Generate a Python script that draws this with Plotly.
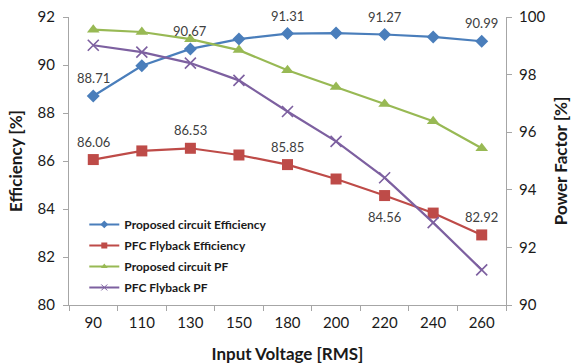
import plotly.graph_objects as go

voltages = ["90", "110", "130", "150", "180", "200", "220", "240", "260"]
prop_eff = [88.71, 89.97, 90.67, 91.08, 91.31, 91.33, 91.27, 91.17, 90.99]
flyback_eff = [86.06, 86.42, 86.53, 86.25, 85.85, 85.25, 84.56, 83.83, 82.92]
prop_pf = [99.56, 99.48, 99.23, 98.85, 98.15, 97.57, 96.98, 96.38, 95.44]
flyback_pf = [99.02, 98.78, 98.40, 97.80, 96.72, 95.68, 94.42, 92.86, 91.22]

prop_eff_labels = ["88.71", "", "90.67", "", "91.31", "", "91.27", "", "90.99"]
flyback_eff_labels = ["86.06", "", "86.53", "", "85.85", "", "84.56", "", "82.92"]
flyback_label_below = [False, False, False, False, False, False, True, False, False]

names = ["Proposed circuit Efficiency", "PFC Flyback Efficiency",
         "Proposed circuit PF", "PFC Flyback PF"]
colors = ["#4A7EBB", "#BE4B48", "#98B954", "#7D60A0"]
symbols = ["diamond", "square", "triangle-up", "x-thin"]
sizes = [10, 11, 11, 11]

fig = go.Figure()
series = [(prop_eff, "y"), (flyback_eff, "y"), (prop_pf, "y2"), (flyback_pf, "y2")]
for i, (vals, ax) in enumerate(series):
    marker = dict(symbol=symbols[i], size=sizes[i], color=colors[i])
    if symbols[i] == "x-thin":
        marker["line"] = dict(color=colors[i], width=1.6)
    fig.add_trace(go.Scatter(
        x=voltages, y=vals, yaxis=ax, mode="lines+markers",
        line=dict(color=colors[i], width=2.2), marker=marker,
        showlegend=False, name=names[i]))

# legend-only entries with small markers
for i in range(4):
    marker = dict(symbol=symbols[i], size=6, color=colors[i])
    if symbols[i] == "x-thin":
        marker["line"] = dict(color=colors[i], width=1)
    fig.add_trace(go.Scatter(
        x=[None], y=[None], mode="lines+markers", name=names[i],
        line=dict(color=colors[i], width=2), marker=marker,
        legendgroup=str(i)))

label_font = dict(family="Lato", size=13, color="#404040")
for i, t in enumerate(prop_eff_labels):
    if t:
        fig.add_annotation(x=i, y=prop_eff[i], xref="x", yref="y", text=t,
                           showarrow=False, yshift=18, font=label_font)
for i, t in enumerate(flyback_eff_labels):
    if t:
        fig.add_annotation(x=i, y=flyback_eff[i], xref="x", yref="y", text=t,
                           showarrow=False,
                           yshift=-21 if flyback_label_below[i] else 18,
                           font=label_font)

tick_font = dict(family="Lato", size=15, color="#1a1a1a")
title_font = dict(family="Lato", size=17, color="#1a1a1a")
axis_common = dict(showgrid=False, zeroline=False, showline=True,
                   linecolor="#A6A6A6", linewidth=1, ticks="outside",
                   tickcolor="#A6A6A6", ticklen=5, tickfont=tick_font,
                   automargin=False)

fig.update_layout(
    width=575, height=364,
    margin=dict(l=69, r=69, t=17, b=59),
    paper_bgcolor="white", plot_bgcolor="white",
    xaxis=dict(type="category", tickson="boundaries", ticklabelstandoff=4,
               title=dict(text="<b>Input Voltage [RMS]</b>", font=title_font, standoff=20),
               range=[-0.5, 8.5], **axis_common),
    yaxis=dict(range=[80, 92], dtick=2, ticklabelstandoff=5,
               title=dict(text="<b>Efficiency [%]</b>", font=title_font, standoff=10),
               **axis_common),
    yaxis2=dict(range=[90, 100], dtick=2, overlaying="y", side="right",
                ticklabelstandoff=4,
                title=dict(text="<b>Power Factor [%]</b>", font=title_font, standoff=10),
                **axis_common),
    legend=dict(x=0.035, y=0.33, xanchor="left", yanchor="top",
                bgcolor="rgba(0,0,0,0)", tracegroupgap=2,
                font=dict(family="Lato", size=12, color="#1a1a1a", weight="bold")),
)

fig.write_html("out.html")
